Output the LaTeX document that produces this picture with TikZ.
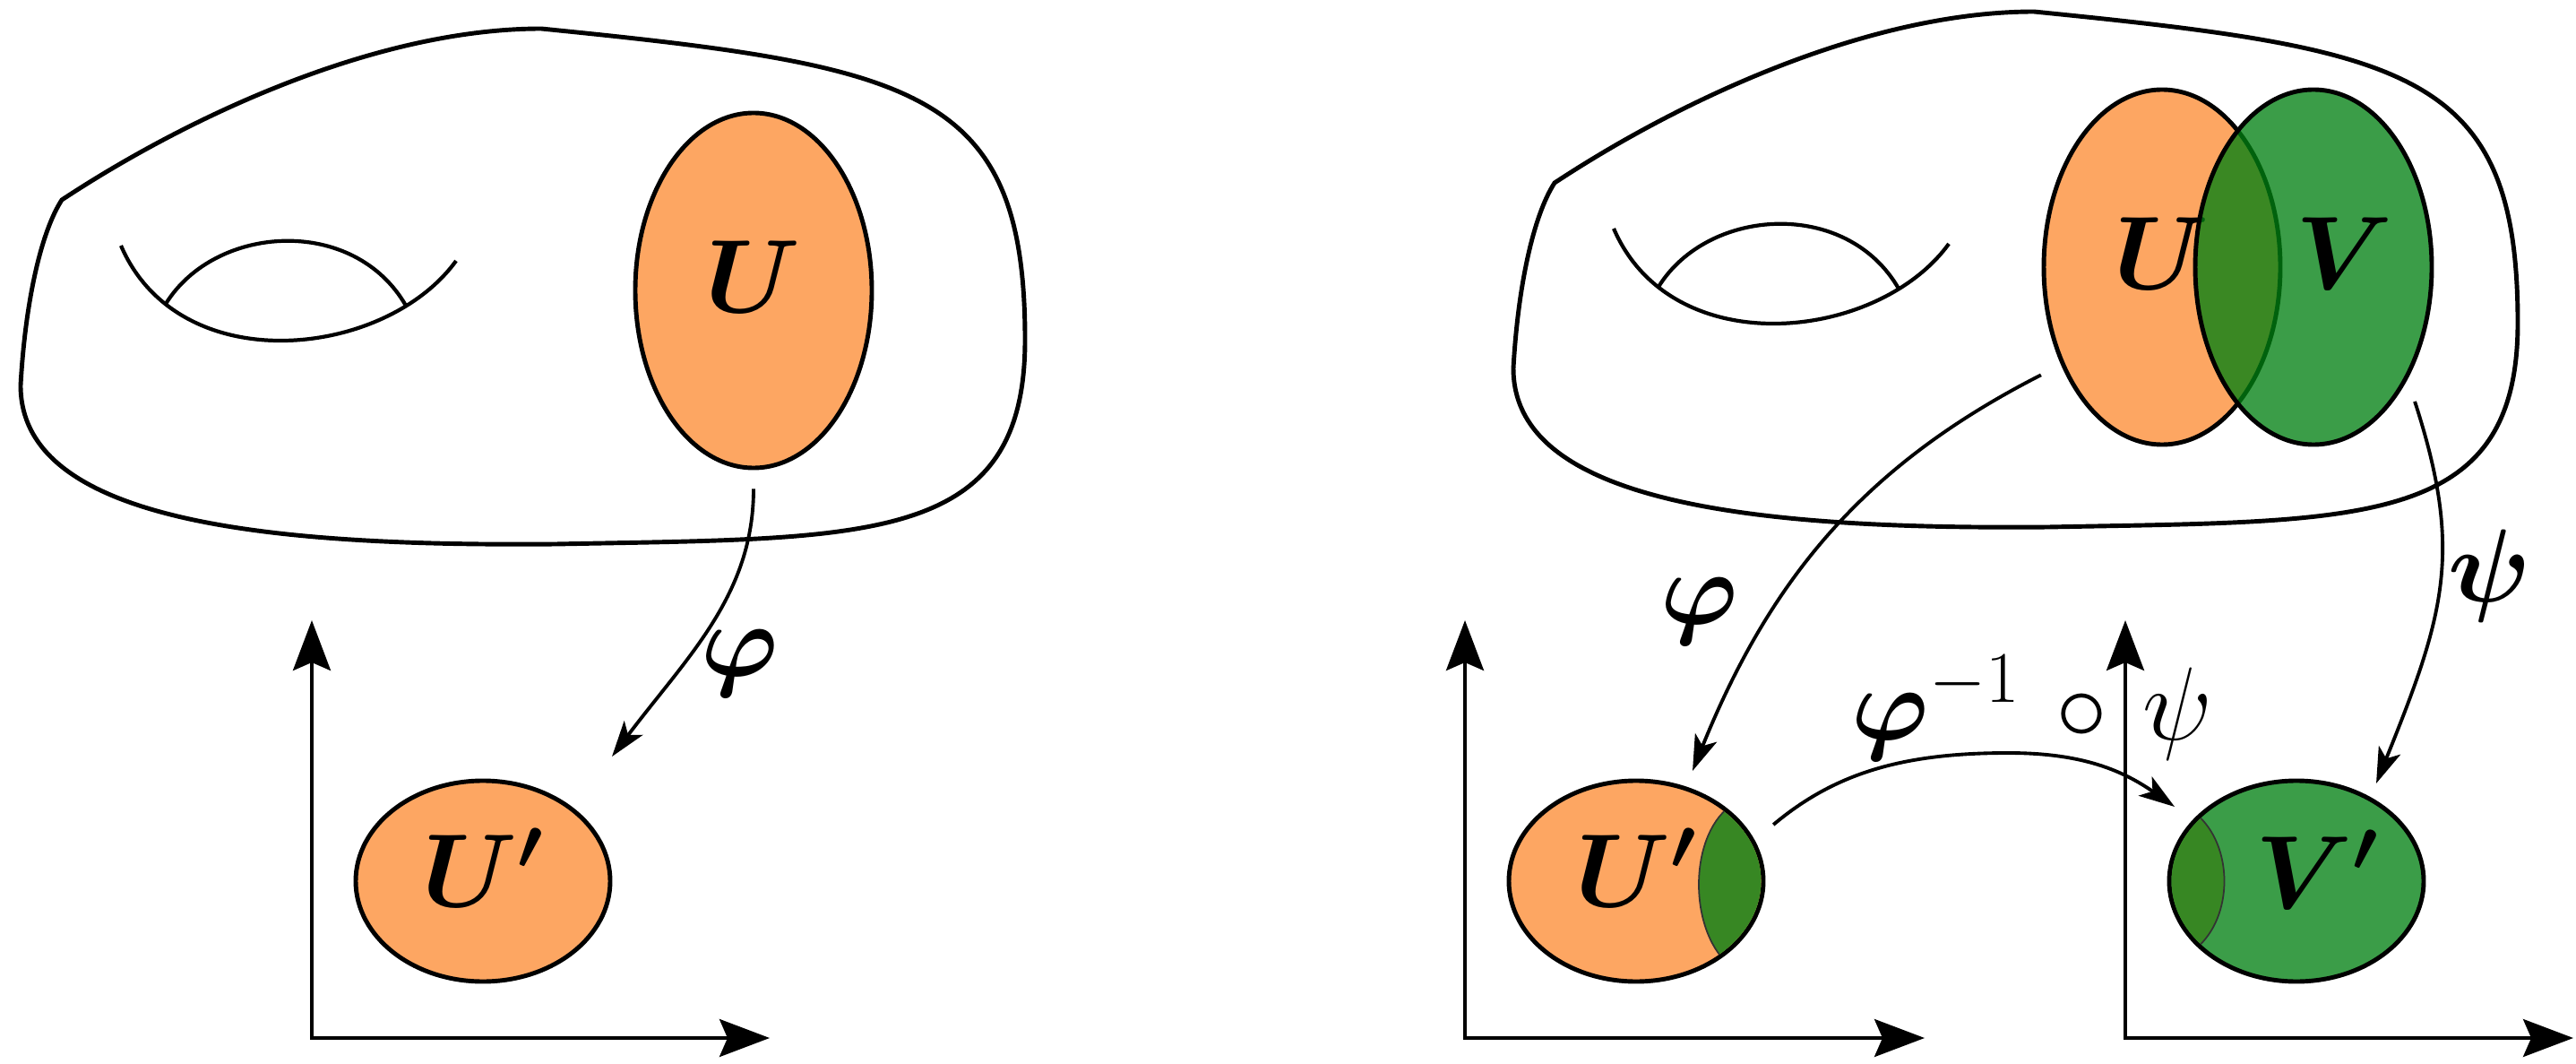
\RequirePackage{fix-cm}
\documentclass[tikz,border=0pt]{standalone}
\usepackage{amsmath,amssymb}
\usepackage{tikz}
\usetikzlibrary{shapes.geometric,arrows.meta}

\definecolor{patchorange}{RGB}{253,166,98}
\definecolor{patchgreen}{RGB}{0,128,17}
\definecolor{overlapgreen}{RGB}{55,135,35}

\begin{document}
\begin{tikzpicture}[
    bigfont/.style={font=\fontsize{33}{40}\selectfont},
    patch/.style={ellipse, draw, line width=1.4pt, inner sep=0pt, text depth=3mm, bigfont},
    chartbig/.style={patch, minimum width=2.64cm, minimum height=3.96cm},
    chartsmall/.style={patch, minimum width=2.84cm, minimum height=2.24cm},
    orangefill/.style={fill=patchorange},
    greenfill/.style={fill=patchgreen, fill opacity=0.77, text opacity=1},
    maplabel/.style={bigfont, inner sep=0pt, text opacity=1},
    map/.style={-{Stealth[length=4mm, width=2.6mm, inset=1mm]}, line width=1.1pt},
    axis/.style={{Stealth[length=5.6mm, width=4.2mm, inset=0.9mm]}-{Stealth[length=5.6mm, width=4.2mm, inset=0.9mm]}, line width=1.1pt},
    surface/.pic={
        % outline of the surface
        \draw[line width=1.4pt] (0.69,-2.23)
            .. controls (2.10,-1.30) and (4.20,-0.32) .. (6.04,-0.32)
            .. controls (10.24,-0.74) and (11.44,-0.99) .. (11.44,-3.79)
            .. controls (11.44,-6.09) and (9.70,-6.00) .. (6.20,-6.07)
            .. controls (2.90,-6.10) and (0.23,-5.80) .. (0.23,-4.30)
            .. controls (0.28,-3.40) and (0.45,-2.60) .. (0.69,-2.23) -- cycle;
        % the handle
        \draw[line width=1.2pt] (1.35,-2.74) .. controls (2.00,-4.25) and (4.30,-4.00) .. (5.09,-2.91);
        \draw[line width=1.2pt] (1.85,-3.39) .. controls (2.40,-2.50) and (3.95,-2.40) .. (4.53,-3.41);
    }
]
    \useasboundingbox (0,0) rectangle (28.75,-11.87);

    % the two surfaces
    \pic at (0,0) {surface};
    \pic at (16.66,0.19) {surface};

    % left: one chart
    \node[chartbig, orangefill] (U) at (8.41,-3.24) {$\boldsymbol{U}$};
    \coordinate (O1) at (3.48,-11.58);
    \coordinate (Y1) at (3.48,-6.92);
    \coordinate (X1) at (8.59,-11.58);
    \draw[axis] (Y1) |- (X1);
    \node[chartsmall, orangefill] (Up) at (5.39,-9.83) {$\boldsymbol{U'}$};
    \coordinate (phiL-tip) at (6.83,-8.44);
    \draw[map, shorten <=2.1mm] (U.south) to[out=-90, in=53] (phiL-tip);
    \node[maplabel] (phiL) at (8.26,-7.40) {$\boldsymbol{\varphi}$};

    % right: two overlapping charts
    \node[chartbig, orangefill] (U2) at (24.13,-2.98) {$\boldsymbol{U}$};
    \node[chartbig, greenfill, label={[maplabel, xshift=3.5mm, yshift=1.5mm]center:$\boldsymbol{V}$}] (V) at (25.82,-2.98) {};

    \coordinate (O2) at (16.35,-11.58);
    \coordinate (Y2) at (16.35,-6.92);
    \coordinate (X2) at (21.48,-11.58);
    \draw[axis] (Y2) |- (X2);
    \coordinate (O3) at (23.72,-11.58);
    \coordinate (Y3) at (23.72,-6.92);
    \coordinate (X3) at (28.72,-11.58);
    \draw[axis] (Y3) |- (X3);

    \node[chartsmall, orangefill] (Up2) at (18.26,-9.83) {$\boldsymbol{U'}$};
    \begin{scope}
        \clip (Up2.center) ellipse [x radius=1.395cm, y radius=1.095cm];
        \fill[overlapgreen] (19.30,-9.00) .. controls (18.85,-9.35) and (18.85,-10.35) .. (19.28,-10.75)
            -- (20.50,-10.75) -- (20.50,-9.00) -- cycle;
        \draw[line width=0.5pt, black!80] (19.30,-9.00) .. controls (18.85,-9.35) and (18.85,-10.35) .. (19.28,-10.75);
    \end{scope}

    \node[chartsmall, greenfill, label={[maplabel, xshift=2.3mm, yshift=1.3mm]center:$\boldsymbol{V'}$}] (Vp) at (25.63,-9.83) {};
    \begin{scope}
        \clip (Vp.center) ellipse [x radius=1.395cm, y radius=1.095cm];
        \fill[overlapgreen] (24.51,-9.08) .. controls (24.93,-9.43) and (24.93,-10.23) .. (24.51,-10.58)
            -- (23.90,-10.58) -- (23.90,-9.08) -- cycle;
        \draw[line width=0.5pt, black!80] (24.51,-9.08) .. controls (24.93,-9.43) and (24.93,-10.23) .. (24.51,-10.58);
    \end{scope}

    % the maps
    \coordinate (phiR-tip) at (18.89,-8.60);
    \draw[map, shorten <=2.5mm] (U2.224) to[out=207, in=68] (phiR-tip);
    \node[maplabel] (phiR) at (18.97,-6.82) {$\boldsymbol{\varphi}$};

    \coordinate (psiR-tip) at (26.52,-8.74);
    \draw[map, shorten <=2.6mm] (V.310) to[out=-72, in=68, looseness=1.15] (psiR-tip);
    \node[maplabel] (psiR) at (27.79,-6.43) {$\boldsymbol{\psi}$};

    \coordinate (trans-top) at (22.41,-8.40);
    \coordinate (trans-tip) at (24.27,-9.00);
    \draw[map, shorten <=2.7mm] (Up2.19) to[out=40, in=180] (trans-top) to[out=0, in=145] (trans-tip);
    \node[maplabel] (trans) at (22.68,-7.90) {$\boldsymbol{\varphi}^{-1}\mkern2mu\circ\mkern2mu\psi$};
\end{tikzpicture}
\end{document}
